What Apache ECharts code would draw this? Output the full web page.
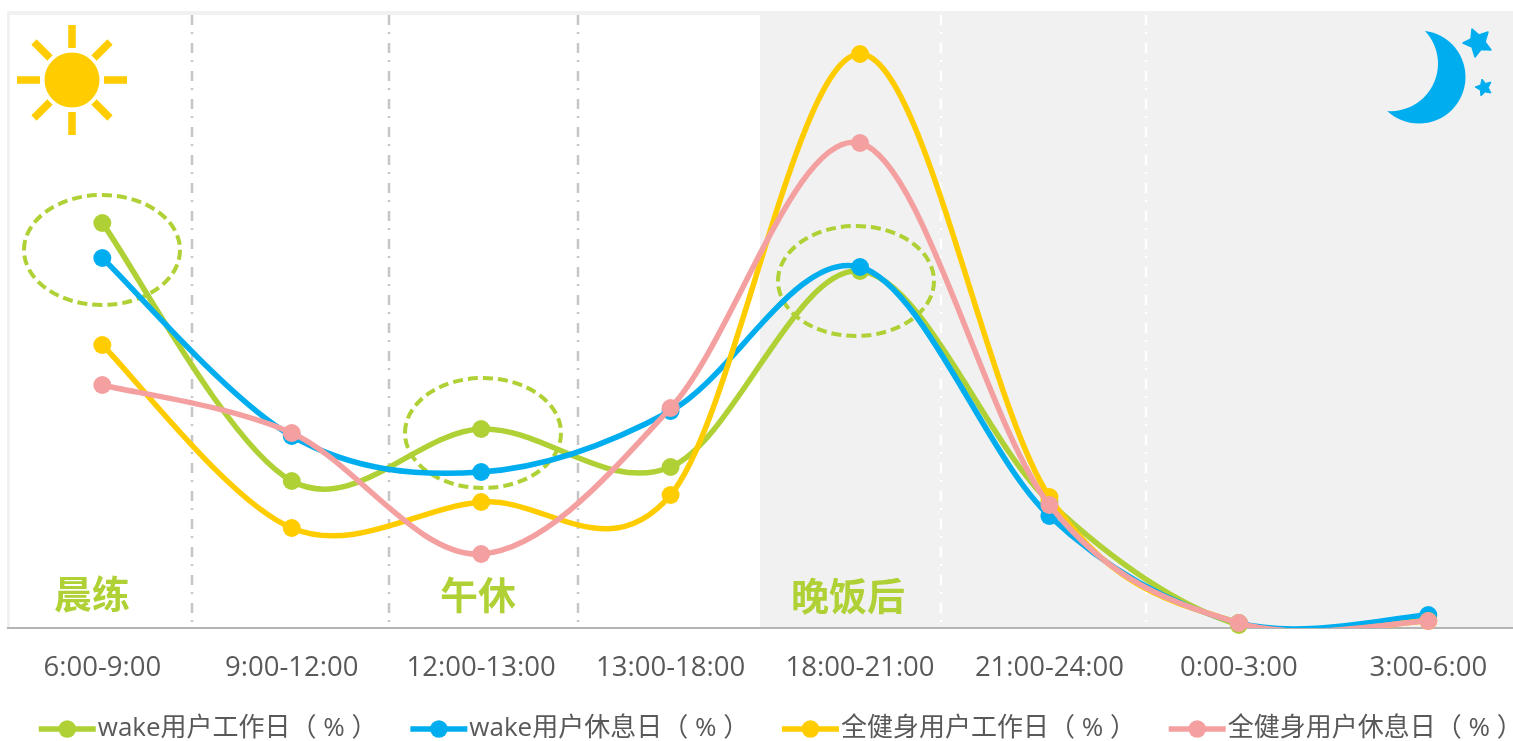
<!DOCTYPE html>
<html><head><meta charset="utf-8">
<style>html,body{margin:0;padding:0;background:#fff}#c{width:1513px;height:741px}</style>
<script src="https://cdn.jsdelivr.net/npm/echarts@6/dist/echarts.min.js"></script>
</head><body><div id="c"></div>
<script>
const categories=['6:00-9:00','9:00-12:00','12:00-13:00','13:00-18:00','18:00-21:00','21:00-24:00','0:00-3:00','3:00-6:00'];
const wakeWork=[20.25,7.35,9.95,8.05,17.85,6.3,0.15,0.4];
const wakeRest=[18.5,9.6,7.8,10.85,18.05,5.6,0.25,0.65];
const fitWork=[14.15,5,6.3,6.65,28.7,6.55,0.25,0.35];
const fitRest=[12.15,9.75,3.7,11,24.25,6.15,0.25,0.35];
const names=['wake用户工作日（ % ）','wake用户休息日（ % ）','全健身用户工作日（ % ）','全健身用户休息日（ % ）'];
const colors=['#AFD135','#00AEEF','#FFCC00','#F4A0A0'];
const periodLabels=[['晨练',92,594],['午休',478,595],['晚饭后',848,596]];

const font='"Open Sans","Noto Sans CJK SC",sans-serif';
const green=colors[0],yellow=colors[2],blue=colors[1];
function vline(x,color,dash){return{type:'line',z:-1,silent:true,shape:{x1:x,y1:15,x2:x,y2:627},style:{stroke:color,lineWidth:2.5,lineDash:dash}};}
function ring(cx,cy){return{type:'ellipse',z:1,silent:true,shape:{cx:cx,cy:cy,rx:78,ry:55},style:{fill:null,stroke:green,lineWidth:4,lineDash:[10,5]}};}
function ray(x1,y1,x2,y2){return{type:'line',z:1,silent:true,shape:{x1,y1,x2,y2},style:{stroke:yellow,lineWidth:7.5}};}
const grey=[10,7,2,9],white=[10,7,2,9];
const graphics=[
 {type:'rect',z:-3,silent:true,shape:{x:7,y:11,width:1506,height:616},style:{fill:'#f1f1f1'}},
 {type:'rect',z:-2,silent:true,shape:{x:10,y:15,width:750,height:612},style:{fill:'#fff'}},
 vline(192,'#c6c6c6',grey),vline(389,'#c6c6c6',grey),vline(578,'#c6c6c6',grey),
 vline(941,'#fff',white),vline(1146,'#fff',white),
 ring(102,250),ring(483,433),ring(856,281),
 {type:'circle',z:1,silent:true,shape:{cx:72,cy:80,r:27.5},style:{fill:yellow}},
 ray(72,25,72,48),ray(72,112,72,135),ray(17,80,40,80),ray(104,80,127,80),
 ray(34,42,50,58),ray(110,42,94,58),ray(34,118,50,102),ray(110,118,94,102),
 {type:'circle',z:1,silent:true,shape:{cx:1419,cy:77,r:46.5},style:{fill:blue}},
 {type:'circle',z:1.5,silent:true,shape:{cx:1390.4,cy:63.6,r:47.6},style:{fill:'#f1f1f1'}},
 {type:'polygon',z:1,silent:true,shape:{points:[[1472,29],[1479,35],[1488,32],[1485,42],[1491,50],[1481,49.5],[1475,57],[1472,47],[1463,43],[1471,39]]},style:{fill:blue,stroke:blue,lineWidth:1.5,lineJoin:'round'}},
 {type:'polygon',z:1,silent:true,shape:{points:[[1482,79],[1485.5,83.4],[1491,82],[1488.3,87.7],[1491,93],[1485.2,92],[1481,96],[1480.3,90.2],[1475,87],[1480.6,84.9]]},style:{fill:blue,stroke:blue,lineWidth:1,lineJoin:'round'}}
];
periodLabels.forEach(p=>graphics.push({type:'text',z:3,silent:true,x:p[1],y:p[2],style:{text:p[0],fill:green,font:'bold 38px "Noto Sans CJK SC",sans-serif',textAlign:'center',textVerticalAlign:'middle'}}));

const chart=echarts.init(document.getElementById('c'),null,{renderer:'canvas'});
const seriesData=[wakeWork,wakeRest,fitWork,fitRest];
// Spreadsheet-style curve: each value series is joined by Catmull-Rom segments through api.coord
function curveSeries(d,i){
 return {name:names[i]+' curve',type:'custom',coordinateSystem:'cartesian2d',clip:true,silent:true,z:2+2*i,
  encode:{x:0,y:1},data:d.map((v,k)=>[k,v]),
  renderItem(params,api){
   const k=params.dataIndex; if(k>=d.length-1) return null;
   const p=d.map((v,n)=>api.coord([n,v]));
   const a=p[Math.max(k-1,0)],b=p[k],c=p[k+1],e=p[Math.min(k+2,d.length-1)];
   return {type:'bezierCurve',shape:{x1:b[0],y1:b[1],x2:c[0],y2:c[1],
     cpx1:b[0]+(c[0]-a[0])/6,cpy1:b[1]+(c[1]-a[1])/6,
     cpx2:c[0]-(e[0]-b[0])/6,cpy2:c[1]-(e[1]-b[1])/6},
    style:{fill:'none',stroke:colors[i],lineWidth:5.5,lineCap:'round'}};
  }};
}
chart.setOption({
 animation:false,
 color:colors,
 grid:{left:7.6,width:1515.4,top:28,bottom:113,outerBoundsMode:'none'},
 xAxis:{type:'category',data:categories,boundaryGap:true,
  axisLine:{lineStyle:{color:'#b4b4b4',width:2}},axisTick:{show:false},
  axisLabel:{interval:0,margin:26,fontSize:27.5,color:'#595959',fontFamily:font}},
 yAxis:{type:'value',min:0,max:30,show:false,splitLine:{show:false}},
 legend:{left:36,top:716,width:1700,itemWidth:57,itemHeight:22,itemGap:30,padding:0,
  lineStyle:{width:5.5,opacity:1},
  textStyle:{fontSize:26,color:'#595959',fontFamily:font,padding:[0,0,0,-3]},data:names},
 graphic:graphics,
 series:seriesData.map((d,i)=>curveSeries(d,i)).concat(seriesData.map((d,i)=>({name:names[i],type:'line',data:d,symbol:'circle',symbolSize:18,clip:false,
  lineStyle:{width:5,color:colors[i],opacity:0},itemStyle:{color:colors[i]},z:3+2*i})))
});
</script></body></html>
